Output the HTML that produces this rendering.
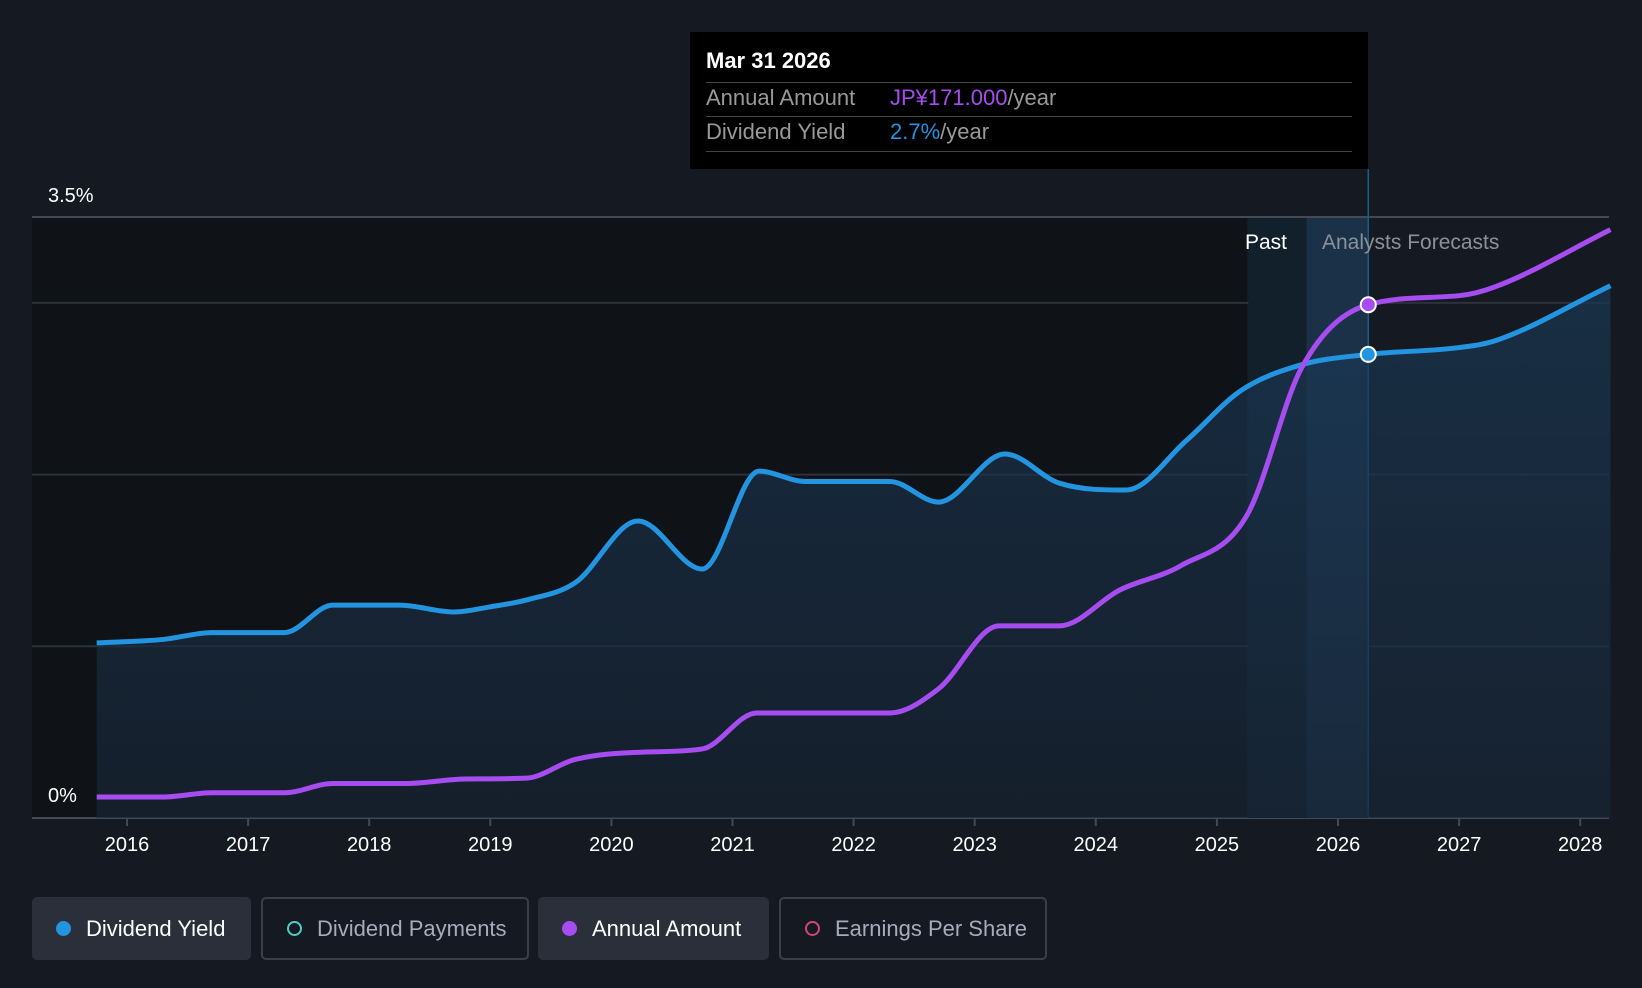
<!DOCTYPE html>
<html><head><meta charset="utf-8"><style>
html,body{margin:0;padding:0;background:#151a22;width:1642px;height:988px;overflow:hidden;font-family:"Liberation Sans",sans-serif}
.leg{position:absolute;top:897px;height:63px;box-sizing:border-box;border-radius:5px;display:flex;align-items:center;font-size:22px;color:#fff}
.leg span.d{width:15px;height:15px;border-radius:50%;margin:0 15px 0 24px;box-sizing:border-box}
</style></head><body>
<svg id="chart" width="1642" height="988" style="position:absolute;left:0;top:0">
<defs><linearGradient id="ag" x1="0" y1="0" x2="0" y2="1"><stop offset="0" stop-color="#1a3a58" stop-opacity="0.85"/><stop offset="1" stop-color="#182535" stop-opacity="0.9"/></linearGradient></defs>
<rect x="32" y="218" width="1215" height="600" fill="#0f1217"/>
<g id="grid"></g><g id="bands"></g><g id="series"></g><g id="axes"></g>
</svg>
<div style="position:absolute;left:690px;top:32px;width:678px;height:137px;background:#000;color:#fff;font-size:22px">
<div style="position:absolute;left:16px;top:16px;font-weight:bold">Mar 31 2026</div>
<div style="position:absolute;left:16px;right:16px;top:50px;border-top:1px solid #444"></div>
<div style="position:absolute;left:16px;top:53px;color:#999">Annual Amount</div>
<div style="position:absolute;left:200px;top:53px;color:#999"><span style="color:#a64cf0">JP¥171.000</span>/year</div>
<div style="position:absolute;left:16px;right:16px;top:84px;border-top:1px solid #444"></div>
<div style="position:absolute;left:16px;top:87px;color:#999">Dividend Yield</div>
<div style="position:absolute;left:200px;top:87px;color:#999"><span style="color:#2394e0">2.7%</span>/year</div>
<div style="position:absolute;left:16px;right:16px;top:119px;border-top:1px solid #444"></div>
</div>
<div class="leg" style="left:32px;width:219px;background:#2a2f3a"><span class="d" style="background:#2394e0"></span>Dividend Yield</div>
<div class="leg" style="left:261px;width:268px;border:2px solid #3a3f4a;color:#aab"><span class="d" style="border:2px solid #4ecdc4"></span>Dividend Payments</div>
<div class="leg" style="left:538px;width:231px;background:#2a2f3a"><span class="d" style="background:#a64cf0"></span>Annual Amount</div>
<div class="leg" style="left:779px;width:268px;border:2px solid #3a3f4a;color:#aab"><span class="d" style="border:2px solid #d0457a"></span>Earnings Per Share</div>
<script>
const years=[2016,2017,2018,2019,2020,2021,2022,2023,2024,2025,2026,2027,2028];
const yTicks=[0,1,2,3,3.5];
const yieldX=[2015.75,2016.3,2016.7,2017.3,2017.7,2018.25,2018.7,2019.0,2019.3,2019.7,2020.22,2020.75,2021.22,2021.6,2022.3,2022.7,2023.25,2023.7,2024.25,2024.75,2025.2,2025.7,2026.25,2027.0,2027.3,2028.25];
const yieldV=[1.02,1.04,1.08,1.08,1.24,1.24,1.20,1.23,1.27,1.37,1.73,1.45,2.02,1.96,1.96,1.84,2.12,1.95,1.91,2.20,2.49,2.64,2.70,2.74,2.78,3.10];
const amtX=[2015.75,2016.3,2016.7,2017.3,2017.7,2018.3,2018.8,2019.3,2019.7,2020.3,2020.75,2021.2,2022.3,2022.7,2023.2,2023.7,2024.2,2024.7,2025.25,2025.7,2026.25,2027.0,2027.3,2028.25];
const amtV=[7,7,8.4,8.4,11.5,11.5,13,13.3,19.5,22,23,35,35,43,64,64,76,84,101,150,171,174,177,196];
const NS='http://www.w3.org/2000/svg';
const X=t=>127+(t-2016)*121.1;
const Y=v=>818-v*171.7;
const YA=a=>Y(a/57.2);
function mk(tag,at,par){const e=document.createElementNS(NS,tag);for(const k in at)e.setAttribute(k,at[k]);document.getElementById(par).appendChild(e);return e;}
function path(p){const n=p.length,d=[],m=[];for(let i=0;i<n-1;i++)d.push((p[i+1][1]-p[i][1])/(p[i+1][0]-p[i][0]));
m[0]=d[0];m[n-1]=d[n-2];for(let i=1;i<n-1;i++){m[i]=(d[i-1]*d[i]<=0)?0:(d[i-1]+d[i])/2;}
for(let i=0;i<n-1;i++){if(d[i]===0){m[i]=0;m[i+1]=0;continue;}const a=m[i]/d[i],b=m[i+1]/d[i],s=a*a+b*b;if(s>9){const t=3/Math.sqrt(s);m[i]=t*a*d[i];m[i+1]=t*b*d[i];}}
let s='M'+p[0][0]+','+p[0][1];for(let i=0;i<n-1;i++){const h=(p[i+1][0]-p[i][0])/3;s+=' C'+(p[i][0]+h)+','+(p[i][1]+m[i]*h)+' '+(p[i+1][0]-h)+','+(p[i+1][1]-m[i+1]*h)+' '+p[i+1][0]+','+p[i+1][1];}return s;}
yTicks.forEach(v=>{const l=mk('line',{x1:32,x2:1609,y1:Y(v),y2:Y(v),stroke:v==0||v==3.5?'#444a55':'#2c313b','stroke-width':2},'grid');

});
[[3.5,'3.5%',194],[0,'0%',794]].forEach(a=>{const t=mk('text',{x:48,y:a[2]+8,fill:'#fff','font-size':20},'axes');t.textContent=a[1];

});
years.forEach(y=>{const l=mk('line',{x1:X(y),x2:X(y),y1:818,y2:826,stroke:'#444a55','stroke-width':2},'axes');


const t=mk('text',{x:X(y),y:851,fill:'#fff','font-size':20,'text-anchor':'middle'},'axes');t.textContent=y;

});
const b1=mk('rect',{x:X(2025.26),y:218,width:X(2025.74)-X(2025.26),height:600,fill:'#12202c'},'bands');


const b2=mk('rect',{x:X(2025.74),y:218,width:X(2026.25)-X(2025.74),height:600,fill:'#1b3148'},'bands');


const vl=mk('line',{x1:X(2026.25),x2:X(2026.25),y1:169,y2:818,stroke:'#1f5a85','stroke-width':1.5},'bands');


const pt=mk('text',{x:1266,y:249,fill:'#fff','font-size':21,'text-anchor':'middle'},'bands');pt.textContent='Past';


const ft=mk('text',{x:1322,y:249,fill:'#8b919a','font-size':21},'bands');ft.textContent='Analysts Forecasts';


const yp=yieldX.map((x,i)=>[X(x),Y(yieldV[i])]);
const ap=amtX.map((x,i)=>[X(x),YA(amtV[i])]);
const yd=path(yp);
const ar=mk('path',{d:yd+' L'+yp[yp.length-1][0]+',818 L'+yp[0][0]+',818 Z',fill:'url(#ag)',opacity:0.75},'series');


const ln1=mk('path',{d:yd,fill:'none',stroke:'#2394e0','stroke-width':5},'series');


const ln2=mk('path',{d:path(ap),fill:'none',stroke:'#a64cf0','stroke-width':5},'series');


const iy=yieldX.indexOf(2026.25),ia=amtX.indexOf(2026.25);
const m1=mk('circle',{cx:X(2026.25),cy:YA(amtV[ia]),r:7.5,fill:'#a64cf0',stroke:'#fff','stroke-width':2},'series');


const m2=mk('circle',{cx:X(2026.25),cy:Y(yieldV[iy]),r:7.5,fill:'#2394e0',stroke:'#fff','stroke-width':2},'series');


</script>
</body></html>
